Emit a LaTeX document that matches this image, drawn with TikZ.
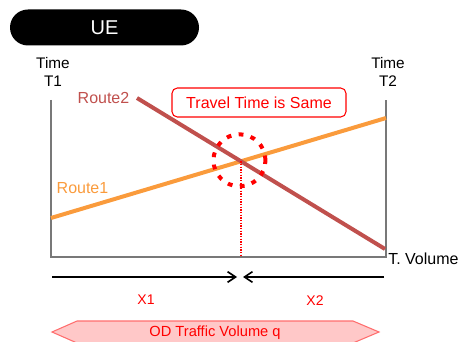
\documentclass[tikz,border=0pt]{standalone}
\usepackage{fontspec}
\setmainfont{Liberation Sans}
\usetikzlibrary{arrows.meta}

\definecolor{routeorange}{RGB}{250,155,60}
\definecolor{routebrown}{RGB}{192,80,77}
\definecolor{axisgray}{RGB}{120,120,120}
\definecolor{odfill}{RGB}{255,200,200}
\definecolor{odline}{RGB}{255,110,110}

\tikzset{
  pill/.style={fill=black, text=white, rounded corners=13.5pt,
    minimum width=141.75pt, minimum height=27pt, inner sep=0pt,
    font=\fontsize{15}{18}\selectfont},
  axislabel/.style={align=center, inner sep=0pt,
    font=\fontsize{11.5}{13}\selectfont},
  axisline/.style={draw=axisgray, line width=1.1pt},
  route1/.style={draw=routeorange, line width=3pt},
  route2/.style={draw=routebrown, line width=3pt},
  routelabel/.style={inner sep=0pt, font=\fontsize{12}{14}\selectfont},
  samebox/.style={draw=red, text=red, fill=white, rounded corners=4pt,
    line width=0.8pt, minimum width=130.5pt, minimum height=21.75pt,
    inner sep=0pt, font=\fontsize{12}{14}\selectfont},
  ring/.style={draw=red, line width=3pt, dash pattern=on 3.6pt off 5.6pt},
  eqline/.style={draw=red, line width=0.9pt, dash pattern=on 0.9pt off 1.1pt},
  flow/.style={draw=black, line width=1.2pt,
    -{Straight Barb[length=6pt,width=8pt]}},
  share/.style={text=red, inner sep=0pt, font=\fontsize{10.5}{12}\selectfont},
  odshape/.style={draw=odline, fill=odfill, line width=0.8pt},
  odtext/.style={text=red, inner sep=0pt, font=\fontsize{11}{13}\selectfont}
}

\begin{document}
\begin{tikzpicture}[x=0.75pt, y=-0.75pt]
  \useasboundingbox (0,0) rectangle (460,342);
  \clip (0,0) rectangle (460,342);

  % title
  \node[pill] (ue) at (104.5,27.5) {UE};

  % axes
  \node[axislabel] (t1) at (53,72) {Time\\T1};
  \node[axislabel] (t2) at (388,72) {Time\\T2};
  \coordinate (ytop) at (51,100);
  \coordinate (o) at (51,257);
  \coordinate (xend) at (386,257);
  \coordinate (rtop) at (386,100);
  \draw[axisline] (ytop) -- (o) -- (xend) -- (rtop);
  \node[routelabel, anchor=west] (tv) at (388,259) {T. Volume};

  % route cost lines
  \coordinate (r1a) at (51,218);
  \coordinate (r1b) at (386,118);
  \coordinate (r2a) at (137,98);
  \coordinate (r2b) at (385,249);
  \draw[route1] (r1a) -- (r1b);
  \draw[route2] (r2a) -- (r2b);
  \node[routelabel, text=routebrown] (lab2) at (103.5,98) {Route2};
  \node[routelabel, text=routeorange] (lab1) at (82.5,188) {Route1};

  % equilibrium point
  \coordinate (eq) at (intersection of r1a--r1b and r2a--r2b);
  \draw[eqline] (eq) -- (eq |- o);
  \draw[ring] (eq) ++(-1.5,-1) circle[radius=19.5pt];
  \node[samebox] (same) at (259,102.5) {Travel Time is Same};

  % flow split
  \coordinate (a1s) at (52,277);
  \coordinate (a1e) at (237,277);
  \coordinate (a2s) at (384,277);
  \coordinate (a2e) at (243,277);
  \draw[flow] (a1s) -- (a1e);
  \draw[flow] (a2s) -- (a2e);
  \node[share] (x1) at (146,300) {X1};
  \node[share] (x2) at (315,301) {X2};

  % total demand
  \coordinate (odl) at (52,332);
  \coordinate (odr) at (379,332);
  \draw[odshape] (odl) -- (77,321) -- (353,321) -- (odr) -- (353,343) -- (77,343) -- cycle;
  \node[odtext] (od) at (215,333) {OD Traffic Volume q};
\end{tikzpicture}
\end{document}
